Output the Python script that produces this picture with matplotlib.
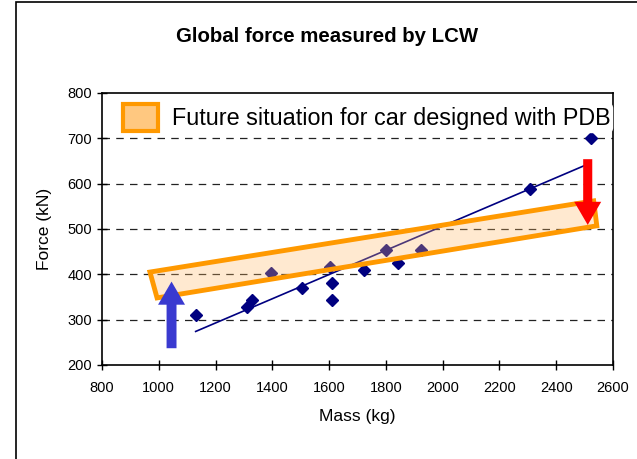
import matplotlib
matplotlib.use("Agg")
import matplotlib.pyplot as plt
from matplotlib import font_manager
from matplotlib.patches import Polygon, Rectangle, FancyArrow
import numpy as np

plt.rcParams['font.family'] = ['Liberation Sans', 'DejaVu Sans']

# measured crash tests
mass = [1130, 1310, 1327, 1397, 1506, 1603, 1609, 1611, 1724, 1800, 1843, 1925, 2307, 2524]
force = [310, 329, 343, 402, 369, 416, 380, 343, 409, 454, 426, 454, 588, 700]

# linear trend through the measurements
trend_mass = [1130, 2500]
trend_force = [274, 640]

# band for the future PDB-designed cars (corners)
band_mass = [969, 2532, 2543, 994]
band_force = [405, 562, 507, 348]

# arrows: x, start force, end force
up_arrow = (1045, 237, 384)
down_arrow = (2511, 654, 509)

fig = plt.figure(figsize=(6.37, 4.59), dpi=100)
ax = fig.add_axes([0.1601, 0.2048, 0.8022, 0.5926])

ax.set_xlim(800, 2600)
ax.set_ylim(200, 800)
ax.set_xticks(np.arange(800, 2601, 200))
ax.set_yticks(np.arange(200, 801, 100))

for y in range(300, 800, 100):
    ax.axhline(y, color='#222222', lw=0.9, ls=(0, (6, 5)), zorder=1)

ax.plot(trend_mass, trend_force, color='#000080', lw=1.2, zorder=2)
ax.plot(mass, force, 'D', color='#000080', ms=6, zorder=3)

band = Polygon(list(zip(band_mass, band_force)), closed=True,
               facecolor=(1.0, 0.72, 0.4, 0.3), edgecolor='#FF9900', lw=3.5, zorder=4)
ax.add_patch(band)

x, y0, y1 = up_arrow
ax.add_patch(FancyArrow(x, y0, 0, y1 - y0, width=35, head_width=95, head_length=51,
                        length_includes_head=True, color='#3A3AD0', lw=0, zorder=5))
x, y0, y1 = down_arrow
ax.add_patch(FancyArrow(x, y0, 0, y1 - y0, width=32, head_width=95, head_length=51,
                        length_includes_head=True, color='#FF0000', lw=0, zorder=5))

leg_patch = Rectangle((0, 0), 1, 1, facecolor='#FFC880', edgecolor='#FF9900', lw=3)
leg = ax.legend([leg_patch], ['Future situation for car designed with PDB'],
                loc='upper left', bbox_to_anchor=(0.039, 0.962), frameon=True,
                fontsize=16.8, handlelength=1.5, handleheight=1.35, handletextpad=0.6,
                borderpad=0.05, borderaxespad=0)
leg.get_frame().set_edgecolor('white')
leg.get_frame().set_facecolor('white')
leg.get_frame().set_alpha(1)
leg.set_zorder(6)

for s in ax.spines.values():
    s.set_linewidth(1.2)
ax.tick_params(direction='inout', length=7, width=1, labelsize=10.5)
ax.tick_params(axis='x', pad=8)
ax.set_xlabel('Mass (kg)', fontsize=12.5, labelpad=10)
ax.set_ylabel('Force (kN)', fontsize=12.5, labelpad=11)

names = {f.name for f in font_manager.fontManager.ttflist}
if 'Liberation Sans Narrow' in names:
    title_font, title_size = 'Liberation Sans Narrow', 17
else:
    title_font, title_size = 'Liberation Sans', 14.7
fig.text(0.513, 0.921, 'Global force measured by LCW', ha='center', va='center',
         fontsize=title_size, fontweight='bold', family=[title_font, 'DejaVu Sans'])

fig.add_artist(Rectangle((16 / 637, -0.1), 1.2, 1.1 - 2 / 459, transform=fig.transFigure,
                         fill=False, lw=1.2, edgecolor='black'))

fig.savefig('out.png', dpi=100)
